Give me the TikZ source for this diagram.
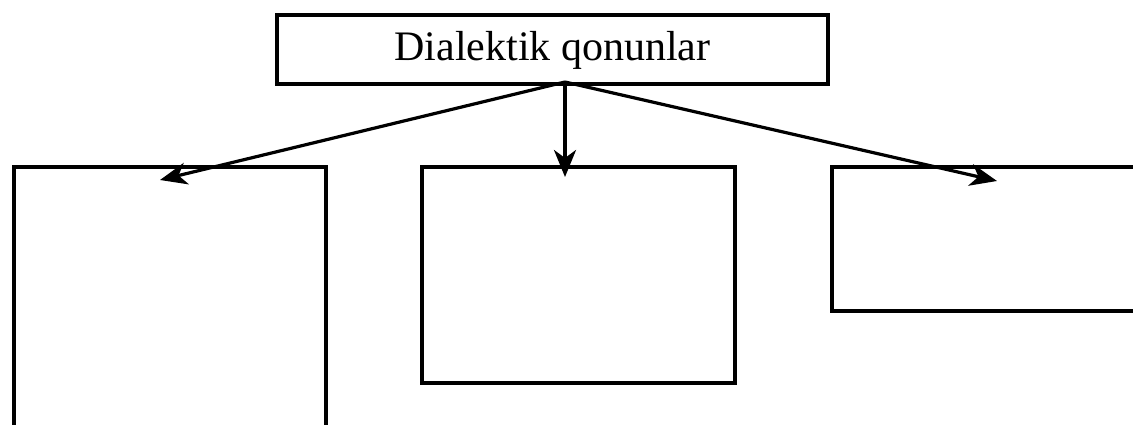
\documentclass[tikz,border=0pt]{standalone}
\usepackage{fontspec}
\setmainfont{Liberation Serif}
\usetikzlibrary{arrows.meta}
\begin{document}
\begin{tikzpicture}[x=1pt,y=-1pt,
  frame/.style={draw=black,line width=4pt,fill=none},
  conn/.style={line width=3.2pt,-{Stealth[length=27pt,width=22pt,inset=8pt]}}]
\useasboundingbox (0,0) rectangle (1133,425);
\clip (0,0) rectangle (1133,425);
\node[frame,minimum width=551pt,minimum height=69pt,inner sep=0pt,
  font=\fontsize{42}{48}\selectfont] (top) at (552.5,50) {Dialektik qonunlar};
\node[frame,minimum width=312pt,minimum height=300pt,inner sep=0pt,anchor=north west] (left) at (12,165) {};
\node[frame,minimum width=313pt,minimum height=216pt,inner sep=0pt,anchor=north west] (mid) at (420,165) {};
\node[frame,minimum width=330pt,minimum height=144pt,inner sep=0pt,anchor=north west] (right) at (830,165) {};
\coordinate (apex) at (565,82);
\coordinate (tl) at (160,180);
\coordinate (tm) at (565,177);
\coordinate (tr) at (997,181);
\draw[conn] (apex) -- (tl);
\draw[conn] (apex) -- (tm);
\draw[conn] (apex) -- (tr);
\end{tikzpicture}
\end{document}
